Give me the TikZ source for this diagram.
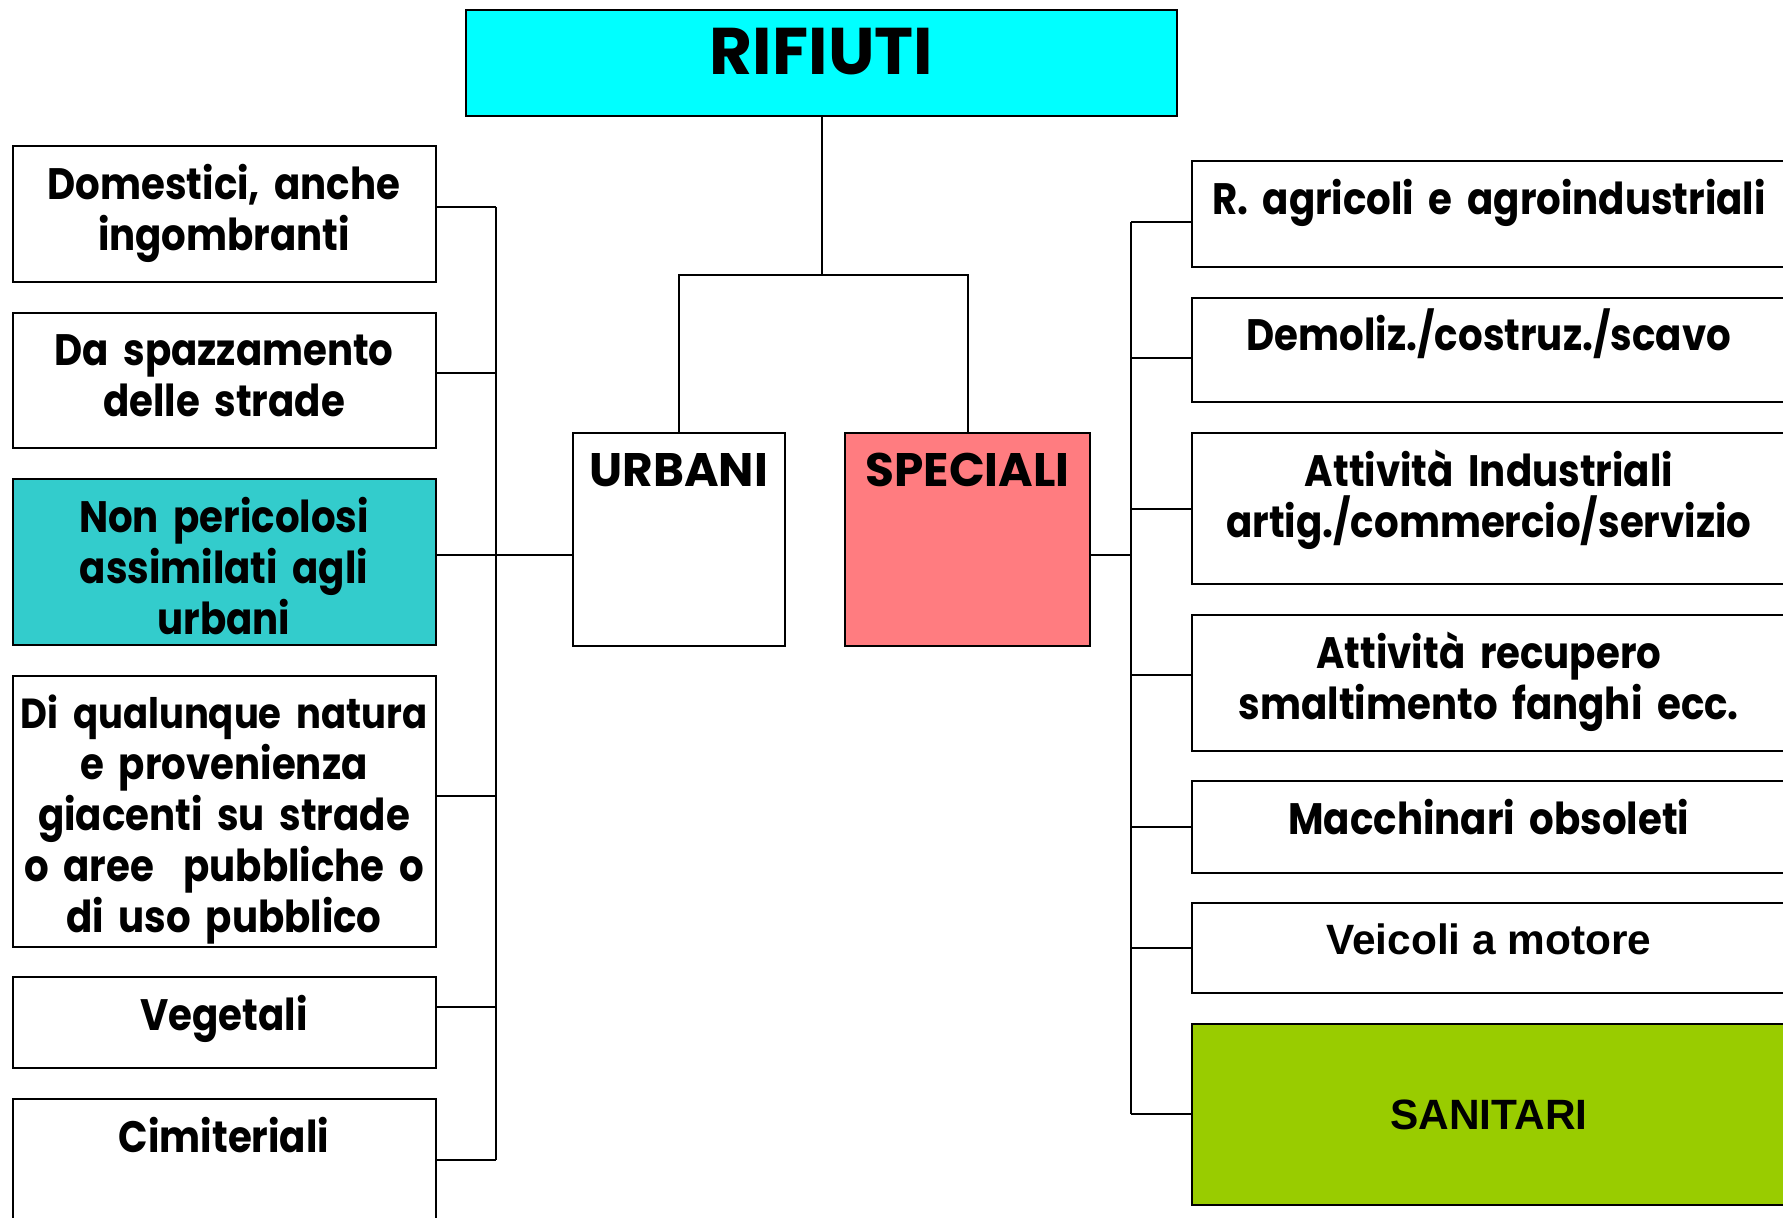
\documentclass[tikz,border=0pt]{standalone}
\usepackage{fontspec}
\setmainfont{Poppins}[FakeStretch=0.88]
\newfontfamily\capsfont{Poppins}
\newfontfamily\arialfont{Liberation Sans}
\usepackage{tikz}
\usetikzlibrary{positioning}

\definecolor{rifcyan}{HTML}{00FFFF}
\definecolor{assimteal}{HTML}{33CCCC}
\definecolor{specpink}{HTML}{FF7C80}
\definecolor{sanigreen}{HTML}{99CC00}

\begin{document}
\begin{tikzpicture}[x=0.5pt,y=-0.5pt,node distance=14.4pt,
  box/.style={draw,line width=1pt,inner sep=0pt,fill=white},
  lbox/.style={box,minimum width=211.5pt,anchor=north},
  rbox/.style={box,minimum width=297pt,anchor=north},
  conn/.style={line width=1pt},
  comic/.style={font=\bfseries\fontsize{22}{25.5}\selectfont,align=center,text width=290pt,inner sep=0pt,anchor=base},
  capstext/.style={font=\capsfont\bfseries\fontsize{23.5}{26}\selectfont,inner sep=0pt,anchor=base},
  arial/.style={font=\arialfont\bfseries\fontsize{21.2}{25.5}\selectfont,inner sep=0pt,anchor=base}]
  \clip (0,0) rectangle (1783,1218);
  \fill[white] (0,0) rectangle (1783,1218);

  % top
  \node[box,fill=rifcyan,minimum width=355.5pt,minimum height=53pt,anchor=north] (rif) at (821.5,9) {};
  \node[box,minimum width=105.75pt,minimum height=106.35pt,anchor=north west] (urb) at (572,432) {};
  \node[box,fill=specpink,minimum width=122.8pt,minimum height=106.35pt,anchor=north west] (spe) at (843.7,432) {};
  \coordinate[below=79pt of rif] (split);

  % urbani
  \node[lbox,minimum height=67.75pt]                    (dom)  at (224,145.5) {};
  \node[lbox,minimum height=67.75pt,below=of dom]       (spa)  {};
  \node[lbox,minimum height=83pt,fill=assimteal,below=of spa] (nonp) {};
  \node[lbox,minimum height=135.3pt,below=of nonp]      (diq)  {};
  \node[lbox,minimum height=45.5pt,below=of diq]        (veg)  {};
  \node[lbox,minimum height=70pt,below=of veg]          (cim)  {};

  % speciali
  \node[rbox,minimum height=52.85pt]                    (agr)  at (1488.85,160.3) {};
  \node[rbox,minimum height=52.3pt,below=of agr]        (dem)  {};
  \node[rbox,minimum height=75.65pt,below=of dem]       (ind)  {};
  \node[rbox,minimum height=67.7pt,below=of ind]        (rec)  {};
  \node[rbox,minimum height=45.5pt,below=of rec]        (mac)  {};
  \node[rbox,minimum height=45pt,below=of mac]          (vei)  {};
  \node[rbox,minimum height=90.35pt,fill=sanigreen,below=of vei] (san) {};

  % texts
  \node[capstext,font=\capsfont\bfseries\fontsize{33}{36}\selectfont] (rifT) at ([yshift=-32.8pt]rif.north) {RIFIUTI};
  \node[capstext] (urbT) at ([yshift=-27.3pt]urb.north) {URBANI};
  \node[capstext] (speT) at ([yshift=-27.3pt]spe.north) {SPECIALI};
  \node[comic] (domT)  at ([yshift=-27pt]dom.north)  {Domestici, anche\\ingombranti};
  \node[comic] (spaT)  at ([yshift=-27pt]spa.north)  {Da spazzamento\\delle strade};
  \node[comic] (nonpT) at ([yshift=-27pt]nonp.north) {Non pericolosi\\assimilati agli\\urbani};
  \node[comic] (diqT)  at ([yshift=-27pt]diq.north)  {{\fontsize{21}{25.5}\selectfont Di qualunque natura}\\e provenienza\\giacenti su strade\\o aree\ \ pubbliche o\\di uso pubblico};
  \node[comic] (vegT)  at ([yshift=-27pt]veg.north)  {Vegetali};
  \node[comic] (cimT)  at ([yshift=-27pt]cim.north)  {Cimiteriali};
  \node[comic] (agrT)  at ([yshift=-27pt]agr.north)  {R. agricoli e agroindustriali};
  \node[comic] (demT)  at ([yshift=-27pt]dem.north)  {Demoliz./costruz./scavo};
  \node[comic] (indT)  at ([yshift=-27pt]ind.north)  {Attività Industriali\\artig./commercio/servizio};
  \node[comic] (recT)  at ([yshift=-27pt]rec.north)  {Attività recupero\\smaltimento fanghi ecc.};
  \node[comic] (macT)  at ([yshift=-27pt]mac.north)  {Macchinari obsoleti};
  \node[arial] (veiT)  at ([yshift=-26pt]vei.north)  {Veicoli a motore};
  \node[arial,anchor=center] (sanT) at (san.center) {SANITARI};

  % connectors
  \coordinate (lbus) at (495.8,0);
  \coordinate (rbus) at (1131.4,0);
  \draw[conn] (rif.south) -- (split);
  \draw[conn] (urb.north) |- (split) -| (spe.north);

  \draw[conn] ([yshift=3.7pt]dom.east -| lbus) -- ([yshift=4.7pt]cim.east -| lbus);
  \draw[conn] ([yshift=3.7pt]dom.east)  -- ([yshift=3.7pt]dom.east -| lbus);
  \draw[conn] ([yshift=3.9pt]spa.east)  -- ([yshift=3.9pt]spa.east -| lbus);
  \draw[conn] ([yshift=3.65pt]nonp.east) -- ([yshift=3.65pt]nonp.east -| urb.west);
  \draw[conn] ([yshift=7.7pt]diq.east)  -- ([yshift=7.7pt]diq.east -| lbus);
  \draw[conn] ([yshift=7.75pt]veg.east) -- ([yshift=7.75pt]veg.east -| lbus);
  \draw[conn] ([yshift=4.7pt]cim.east)  -- ([yshift=4.7pt]cim.east -| lbus);

  \draw[conn] ([yshift=-3.7pt]agr.west -| rbus) -- (san.west -| rbus);
  \draw[conn] ([yshift=-7.7pt]spe.east) -- ([yshift=-7.7pt]spe.east -| rbus);
  \draw[conn] ([yshift=-3.7pt]agr.west)  -- ([yshift=-3.7pt]agr.west -| rbus);
  \draw[conn] ([yshift=-3.95pt]dem.west) -- ([yshift=-3.95pt]dem.west -| rbus);
  \draw[conn] (ind.west) -- (ind.west -| rbus);
  \draw[conn] ([yshift=3.85pt]rec.west)  -- ([yshift=3.85pt]rec.west -| rbus);
  \draw[conn] (mac.west) -- (mac.west -| rbus);
  \draw[conn] (vei.west) -- (vei.west -| rbus);
  \draw[conn] (san.west) -- (san.west -| rbus);
\end{tikzpicture}
\end{document}
